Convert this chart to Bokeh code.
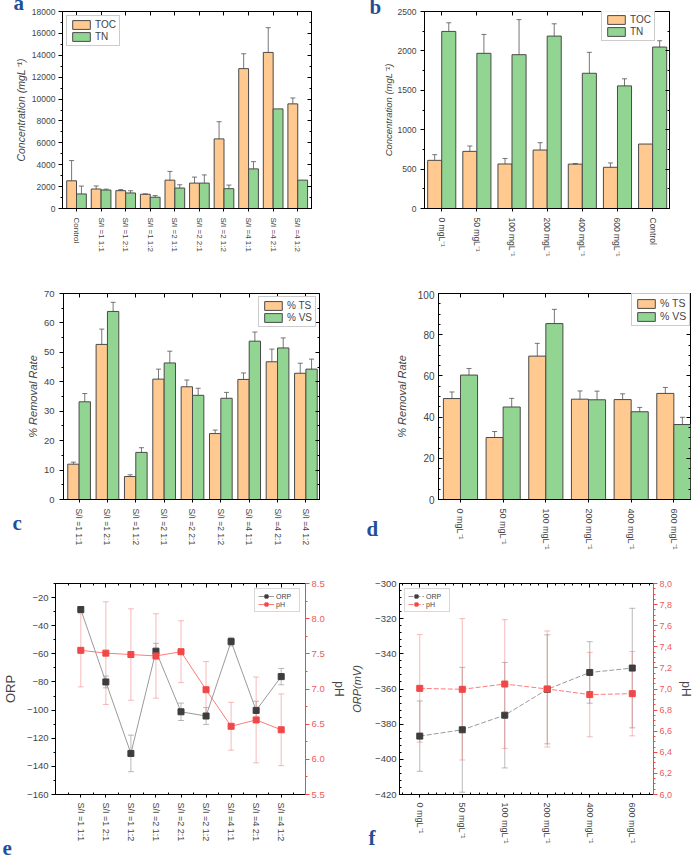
import math
from bokeh.plotting import figure
from bokeh.models import (ColumnDataSource, Whisker, TeeHead, LinearAxis, Range1d,
                          FixedTicker, SingleIntervalTicker, Label, CustomJSTickFormatter)
from bokeh.layouts import column, row
from bokeh.embed import file_html
from bokeh.resources import INLINE

# ---------------- data ----------------
# (a) TOC / TN for substrate-to-inoculum ratios
cats_a = ["Control", "S/I =1 1:1", "S/I =1 2:1", "S/I =1 1:2", "S/I =2 1:1",
          "S/I =2 2:1", "S/I =2 1:2", "S/I =4 1:1", "S/I =4 2:1", "S/I =4 1:2"]
toc_a = [2530, 1780, 1630, 1300, 2590, 2320, 6360, 12780, 14260, 9560]
toc_a_err = [1850, 280, 100, 40, 800, 550, 1570, 1360, 2260, 540]
tn_a = [1330, 1690, 1420, 1030, 1870, 2320, 1810, 3620, 9100, 2590]
tn_a_err = [720, 80, 200, 150, 300, 750, 330, 660, 0, 0]

# (b) TOC / TN for additive dose
cats_b = ["0 mgL⁻¹", "50 mgL⁻¹", "100 mgL⁻¹", "200 mgL⁻¹", "400 mgL⁻¹", "600 mgL⁻¹", "Control"]
toc_b = [611, 725, 565, 742, 563, 523, 818]
toc_b_err = [72, 68, 70, 93, 8, 55, 0]
tn_b = [2247, 1969, 1952, 2188, 1716, 1556, 2049]
tn_b_err = [110, 240, 445, 156, 266, 90, 80]

# (c) removal rates for S/I ratios
cats_c = cats_a[1:]
ts_c = [12.0, 52.7, 7.8, 40.9, 38.3, 22.4, 40.8, 46.8, 42.9]
ts_c_err = [0.7, 5.2, 0.6, 3.4, 2.3, 1.2, 2.2, 4.3, 3.4]
vs_c = [33.2, 63.9, 16.0, 46.4, 35.4, 34.4, 53.8, 51.5, 44.3]
vs_c_err = [2.8, 3.1, 1.6, 4.0, 2.4, 2.0, 3.1, 3.4, 3.4]

# (d) removal rates for additive dose
cats_d = cats_b[:6]
ts_d = [49.0, 30.1, 69.6, 48.7, 48.5, 51.5]
ts_d_err = [3.2, 2.9, 6.2, 4.0, 2.8, 2.9]
vs_d = [60.4, 44.9, 85.4, 48.4, 42.6, 36.4]
vs_d_err = [3.2, 4.2, 6.9, 4.2, 2.1, 3.5]

# (e) ORP and pH for S/I ratios
cats_e = cats_c
orp_e = [-28.5, -80.0, -130.8, -58.1, -101.2, -104.2, -51.3, -100.2, -76.2]
orp_e_err = [1.5, 4.2, 13.0, 5.6, 6.2, 6.0, 3.0, 6.5, 5.8]
ph_e = [7.55, 7.51, 7.49, 7.47, 7.53, 6.99, 6.47, 6.56, 6.42]
ph_e_err = [0.52, 0.73, 0.65, 0.60, 0.44, 0.40, 0.34, 0.61, 0.51]

# (f) ORP and pH for additive dose
cats_f = cats_d
orp_f = [-386.8, -383.2, -374.9, -360.2, -350.6, -348.1]
orp_f_err = [20.0, 35.5, 30.0, 31.0, 17.5, 34.0]
ph_f = [7.006, 6.997, 7.047, 7.000, 6.947, 6.956]
ph_f_err = [0.51, 0.67, 0.61, 0.55, 0.40, 0.40]

# ---------------- style ----------------
FONT = "Liberation Sans"
ORANGE = "#FFC990"
GREEN = "#92D492"
EDGE = "#4a4a4a"
ERR = "#555555"
LETTER = "#1f4f9a"
PH_RED = "#f04848"


def base_fig(w, h, borders, xr, yr):
    p = figure(width=w, height=h, x_range=Range1d(*xr), y_range=Range1d(*yr),
               output_backend="svg", toolbar_location=None,
               min_border_left=borders[0], min_border_right=borders[1],
               min_border_top=borders[2], min_border_bottom=borders[3])
    p.xgrid.visible = False
    p.ygrid.visible = False
    p.outline_line_color = "black"
    p.outline_line_width = 1
    p.background_fill_color = "white"
    p.border_fill_color = "white"
    return p


def cat_xaxis(p, cats, size, standoff=5, minor=None):
    xa = p.xaxis[0]
    xa.ticker = FixedTicker(ticks=list(range(len(cats))), minor_ticks=minor or [])
    xa.formatter = CustomJSTickFormatter(args=dict(labels=cats),
                                         code="const i = Math.round(tick); return labels[i] ?? '';")
    xa.major_label_orientation = "vertical"
    xa.major_label_text_font = FONT
    xa.major_label_text_font_size = size
    xa.major_label_standoff = standoff
    xa.major_tick_out = 3
    xa.major_tick_in = 0
    xa.minor_tick_out = 0
    xa.minor_tick_in = 2
    xa.axis_line_color = "black"


def style_yaxis(ax, label, size, title_size, italic=True, tick_in=0, tick_out=4,
                standoff=3, title_standoff=2):
    ax.axis_label = label
    ax.axis_label_text_font = FONT
    ax.axis_label_text_font_size = title_size
    ax.axis_label_text_font_style = "italic" if italic else "normal"
    ax.axis_label_standoff = title_standoff
    ax.major_label_text_font = FONT
    ax.major_label_text_font_size = size
    ax.major_label_standoff = standoff
    ax.major_tick_in = tick_in
    ax.major_tick_out = tick_out
    ax.minor_tick_in = 2 if tick_in else 0
    ax.minor_tick_out = 0 if tick_in else 2


def mirror(p, side, ticker):
    # tick marks only, on the opposite frame edge
    ax = LinearAxis(ticker=ticker, formatter=CustomJSTickFormatter(code="return '';"),
                    major_label_text_font_size="1px",
                    major_label_standoff=0, major_tick_in=4, major_tick_out=0,
                    minor_tick_in=2, minor_tick_out=0, axis_line_color=None)
    p.add_layout(ax, side)


def letter(p, txt, x, y, side):
    # panel letter in canvas pixels, hosted by a side panel so it is not clipped to the frame
    p.add_layout(Label(x=x, y=y, x_units="canvas", y_units="canvas", text=txt,
                       text_font="Liberation Serif", text_font_style="bold",
                       text_font_size="21px", text_color=LETTER), side)


def bars(p, cats, v1, e1, v2, e2, names):
    n = len(cats)
    for off, vals, errs, col, name in ((-0.2, v1, e1, ORANGE, names[0]),
                                       (0.2, v2, e2, GREEN, names[1])):
        xs = [i + off for i in range(n)]
        src = ColumnDataSource(dict(x=xs, top=vals))
        p.vbar(x="x", top="top", bottom=0, width=0.4, source=src, fill_color=col,
               line_color=EDGE, line_width=1, legend_label=name)
        ex = [x for x, e in zip(xs, errs) if e > 0]
        ev = [v for v, e in zip(vals, errs) if e > 0]
        ee = [e for e in errs if e > 0]
        esrc = ColumnDataSource(dict(x=ex, upper=[v + e for v, e in zip(ev, ee)],
                                     lower=[v - e for v, e in zip(ev, ee)]))
        p.add_layout(Whisker(source=esrc, base="x", upper="upper", lower="lower",
                             line_color=ERR, line_alpha=0.8, line_width=1,
                             upper_head=TeeHead(size=5, line_color=ERR, line_alpha=0.8),
                             lower_head=TeeHead(size=5, line_color=ERR, line_alpha=0.8)))


def bar_legend(p, loc, font="10px", margin=4):
    lg = p.legend[0]
    lg.location = loc
    lg.margin = margin
    lg.padding = 3
    lg.spacing = 1
    lg.glyph_width = 22
    lg.glyph_height = 11
    lg.label_height = 11
    lg.label_standoff = 3
    lg.label_text_font = FONT
    lg.label_text_font_size = font
    lg.border_line_color = "#9a9a9a"
    lg.border_line_width = 1
    lg.background_fill_color = "white"


# ---------------- (a) ----------------
pa = base_fig(348, 290, (62, 37, 9, 82), (-0.57, 9.56), (0, 18000))
bars(pa, cats_a, toc_a, toc_a_err, tn_a, tn_a_err, ("TOC", "TN"))
cat_xaxis(pa, cats_a, "8px", standoff=6)
pa.yaxis[0].ticker = SingleIntervalTicker(interval=2000, num_minor_ticks=2)
style_yaxis(pa.yaxis[0], "Concentration (mgL⁻¹)", "8.5px", "10.5px")
mirror(pa, "right", SingleIntervalTicker(interval=2000, num_minor_ticks=2))
mirror(pa, "above", FixedTicker(ticks=list(range(len(cats_a)))))
bar_legend(pa, "top_left")
letter(pa, "a", 13, 14, "right")

# ---------------- (b) ----------------
pb = base_fig(348, 290, (76, 27, 11, 81), (-0.49, 6.48), (0, 2500))
bars(pb, cats_b, toc_b, toc_b_err, tn_b, tn_b_err, ("TOC", "TN"))
cat_xaxis(pb, cats_b, "8.5px", standoff=6)
pb.yaxis[0].ticker = SingleIntervalTicker(interval=500, num_minor_ticks=2)
style_yaxis(pb.yaxis[0], "Concentration (mgL⁻¹)", "8.5px", "9.5px", standoff=4, title_standoff=1)
mirror(pb, "right", SingleIntervalTicker(interval=500, num_minor_ticks=2))
mirror(pb, "above", FixedTicker(ticks=list(range(len(cats_b)))))
bar_legend(pb, (177, 167))
letter(pb, "b", 21, 18, "left")

# ---------------- (c) ----------------
pc = base_fig(348, 290, (63, 29, 3, 81), (-0.55, 8.48), (0, 70))
bars(pc, cats_c, ts_c, ts_c_err, vs_c, vs_c_err, ("% TS", "% VS"))
cat_xaxis(pc, cats_c, "8.5px", standoff=6)
pc.yaxis[0].ticker = SingleIntervalTicker(interval=10, num_minor_ticks=2)
style_yaxis(pc.yaxis[0], "% Removal Rate", "9.5px", "11px", standoff=5, title_standoff=2)
mirror(pc, "right", SingleIntervalTicker(interval=10, num_minor_ticks=2))
mirror(pc, "above", FixedTicker(ticks=list(range(len(cats_c)))))
bar_legend(pc, "top_right", margin=3)
letter(pc, "c", 12, 244, "left")

# ---------------- (d) ----------------
pd_ = base_fig(348, 290, (90, 6, 3, 81), (-0.515, 5.39), (0, 100))
bars(pd_, cats_d, ts_d, ts_d_err, vs_d, vs_d_err, ("% TS", "% VS"))
cat_xaxis(pd_, cats_d, "9px", standoff=6)
pd_.yaxis[0].ticker = SingleIntervalTicker(interval=20, num_minor_ticks=4)
style_yaxis(pd_.yaxis[0], "% Removal Rate", "10px", "11px", tick_in=4, tick_out=0,
            standoff=4, title_standoff=7)
mirror(pd_, "right", SingleIntervalTicker(interval=20, num_minor_ticks=4))
mirror(pd_, "above", FixedTicker(ticks=list(range(len(cats_d)))))
bar_legend(pd_, (193, 173), font="10.5px")
letter(pd_, "d", 18, 250, "left")


# ---------------- line panels ----------------
def line_panel(p, cats, orp, orp_err, ph, ph_err, dash):
    n = len(cats)
    xs = list(range(n))
    osrc = ColumnDataSource(dict(x=xs, y=orp, up=[v + e for v, e in zip(orp, orp_err)],
                                 lo=[v - e for v, e in zip(orp, orp_err)]))
    hsrc = ColumnDataSource(dict(x=xs, y=ph, up=[v + e for v, e in zip(ph, ph_err)],
                                 lo=[v - e for v, e in zip(ph, ph_err)]))
    p.add_layout(Whisker(source=osrc, base="x", upper="up", lower="lo",
                         line_color="#8c8c8c", line_alpha=0.6,
                         upper_head=TeeHead(size=6, line_color="#8c8c8c", line_alpha=0.6),
                         lower_head=TeeHead(size=6, line_color="#8c8c8c", line_alpha=0.6)))
    p.add_layout(Whisker(source=hsrc, base="x", upper="up", lower="lo", y_range_name="ph",
                         line_color="#f07878", line_alpha=0.5,
                         upper_head=TeeHead(size=6, line_color="#f07878", line_alpha=0.5),
                         lower_head=TeeHead(size=6, line_color="#f07878", line_alpha=0.5)))
    p.line("x", "y", source=osrc, line_color="#9a9a9a", line_width=1, line_dash=dash,
           legend_label="ORP")
    p.scatter("x", "y", source=osrc, marker="square", size=6, fill_color="#3d3d3d",
              line_color="#3d3d3d", legend_label="ORP")
    p.line("x", "y", source=hsrc, line_color="#ff7a7a", line_width=1, line_dash=dash,
           y_range_name="ph", legend_label="pH")
    p.scatter("x", "y", source=hsrc, marker="square", size=6, fill_color=PH_RED,
              line_color=PH_RED, y_range_name="ph", legend_label="pH")
    lg = p.legend[0]
    lg.padding = 3
    lg.spacing = 0
    lg.glyph_width = 16
    lg.glyph_height = 8
    lg.label_height = 8
    lg.label_standoff = 2
    lg.label_text_font = FONT
    lg.label_text_font_size = "7px"
    lg.border_line_color = "#b0b0b0"


def ph_axis(p, ticker, formatter, size):
    ax = LinearAxis(y_range_name="ph", ticker=ticker, formatter=formatter, axis_label="pH")
    ax.axis_line_color = PH_RED
    ax.major_tick_line_color = PH_RED
    ax.minor_tick_line_color = PH_RED
    ax.major_label_text_color = "#ee5a5a"
    ax.major_label_text_font = FONT
    ax.major_label_text_font_size = size
    ax.major_tick_out = 4
    ax.major_tick_in = 0
    ax.minor_tick_out = 2
    ax.minor_tick_in = 0
    ax.major_label_standoff = 2
    ax.axis_label_text_font = FONT
    ax.axis_label_text_font_size = "12px"
    ax.axis_label_text_font_style = "normal"
    ax.axis_label_standoff = 4
    p.add_layout(ax, "right")


# The bottom row runs past the window's lower edge; the extra height hosts the panel letters.
ROW3_H = 292

# (e)
pe = base_fig(348, ROW3_H, (46, 40, 3, ROW3_H - 216), (-1.01, 8.97), (-160, -10))
pe.extra_y_ranges = {"ph": Range1d(5.5, 8.5)}
line_panel(pe, cats_e, orp_e, orp_e_err, ph_e, ph_e_err, "solid")
cat_xaxis(pe, cats_e, "9px", standoff=5, minor=[i + 0.5 for i in range(-1, len(cats_e))])
pe.yaxis[0].ticker = SingleIntervalTicker(interval=20, num_minor_ticks=2)
style_yaxis(pe.yaxis[0], "ORP", "9.5px", "13px", italic=False, standoff=3, title_standoff=6)
ph_axis(pe, SingleIntervalTicker(interval=0.5, num_minor_ticks=2),
        CustomJSTickFormatter(code="return tick.toFixed(1);"), "9.5px")
mirror(pe, "above", FixedTicker(ticks=list(range(len(cats_e))),
                                minor_ticks=[i + 0.5 for i in range(-1, len(cats_e))]))
pe.legend[0].location = "top_right"
pe.legend[0].margin = 5
letter(pe, "e", 2, 274, "below")

# (f)
pf = base_fig(348, ROW3_H, (49, 36, 2, ROW3_H - 214), (-0.477, 5.5), (-420, -300))
pf.extra_y_ranges = {"ph": Range1d(6.0, 8.0)}
line_panel(pf, cats_f, orp_f, orp_f_err, ph_f, ph_f_err, "5 2")
cat_xaxis(pf, cats_f, "9px", standoff=5,
          minor=[i / 5 for i in range(-2, 5 * len(cats_f) + 3) if i % 5])
pf.yaxis[0].ticker = SingleIntervalTicker(interval=20, num_minor_ticks=5)
style_yaxis(pf.yaxis[0], "ORP(mV)", "9.5px", "11px", tick_in=4, tick_out=0,
            standoff=3, title_standoff=9)
ph_axis(pf, SingleIntervalTicker(interval=0.2, num_minor_ticks=4),
        CustomJSTickFormatter(code="return tick.toFixed(1).replace('.', ',');"), "9px")
mirror(pf, "above", FixedTicker(ticks=list(range(len(cats_f))),
                                minor_ticks=[i / 5 for i in range(-2, 5 * len(cats_f) + 3) if i % 5]))
pf.legend[0].location = "top_left"
pf.legend[0].margin = 5
letter(pf, "f", 20, 269, "below")

layout = column(row(pa, pb), row(pc, pd_), row(pe, pf))
html = file_html(layout, INLINE, title="Digestion performance")
html = html.replace("<head>", "<head><style>html,body{margin:0;padding:0;overflow:hidden;}</style>", 1)
open("out.html", "w").write(html)
